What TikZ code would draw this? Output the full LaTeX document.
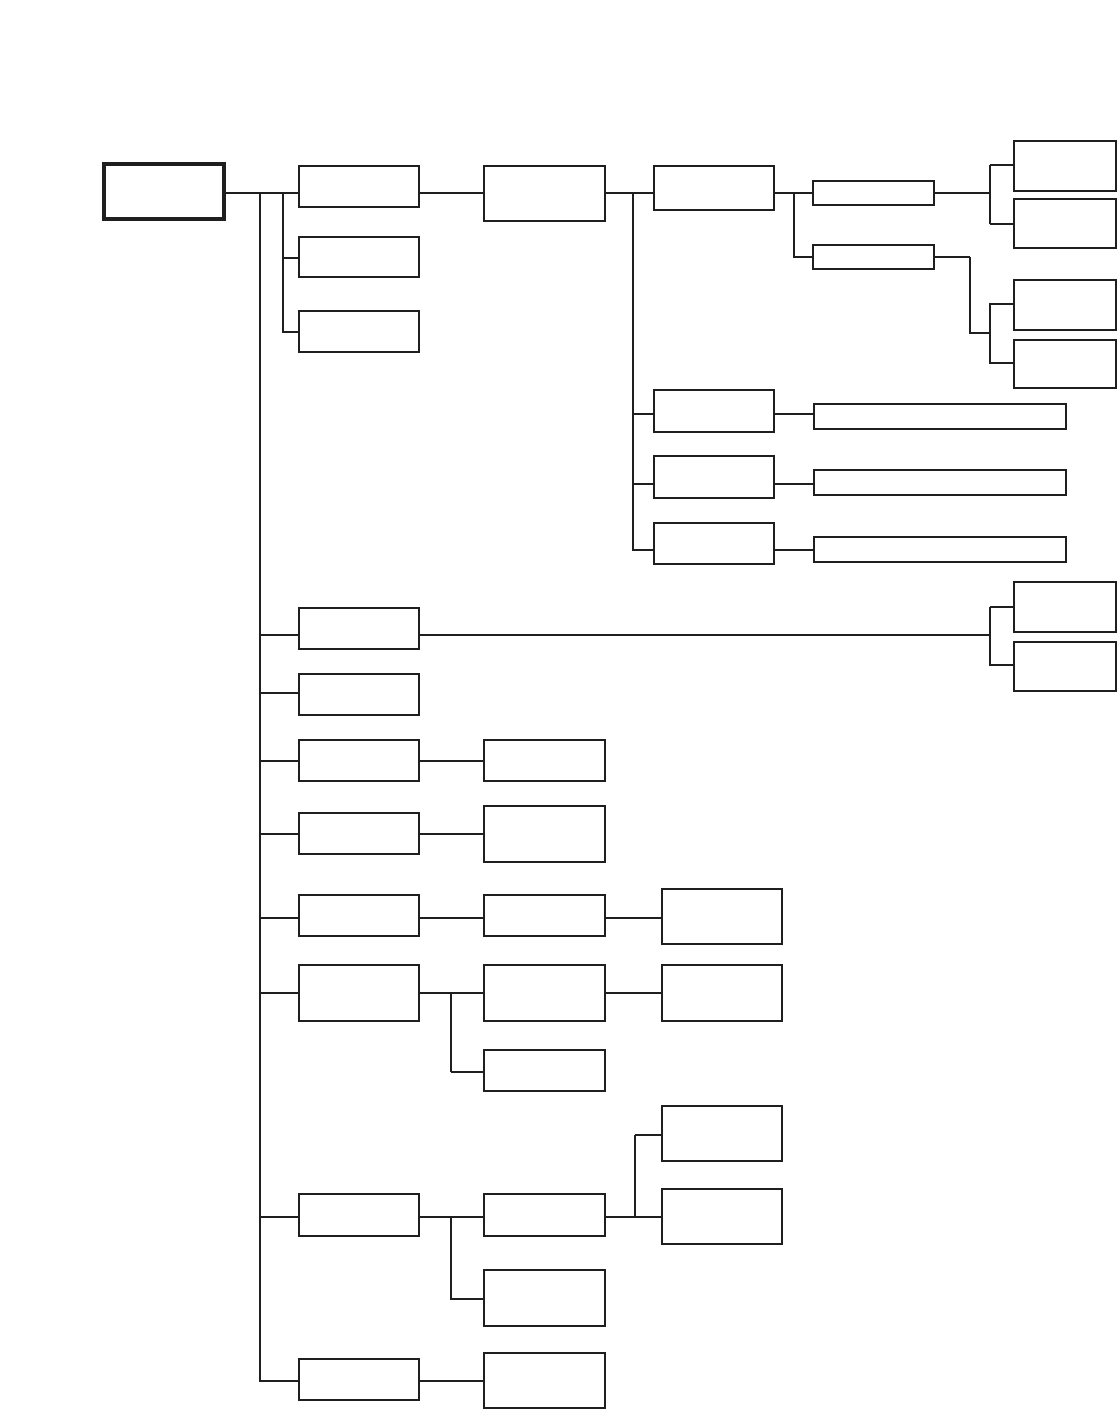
\documentclass[tikz,border=0pt]{standalone}
\begin{document}
\begin{tikzpicture}[x=1pt,y=-1pt,
  box/.style={draw=black!88,line width=1.7pt,inner sep=0pt,outer sep=0pt,anchor=north west,fill=white},
  rootbox/.style={draw=black!88,line width=3.2pt,inner sep=0pt,outer sep=0pt,anchor=north west,fill=white},
  thk/.style={draw=black!88,line width=1.9pt},
  thn/.style={draw=black!88,line width=1.2pt}]
\useasboundingbox (0,0) rectangle (1118,1409);
\newcommand\bx[6][box]{\node[#1,minimum width=#5pt,minimum height=#6pt] (#2) at (#3,#4) {};}
% boxes
\bx[rootbox]{root}{104}{164}{120}{55}
\bx{B1}{299}{166}{120}{41}
\bx{B2}{299}{237}{120}{40}
\bx{B3}{299}{311}{120}{41}
\bx{C1}{484}{166}{121}{55}
\bx{D1}{654}{166}{120}{44}
\bx{E1}{813}{181}{121}{24}
\bx{E2}{813}{245}{121}{24}
\bx{F1}{1014}{141}{102}{50}
\bx{F2}{1014}{199}{102}{49}
\bx{F3}{1014}{280}{102}{50}
\bx{F4}{1014}{340}{102}{48}
\bx{D2}{654}{390}{120}{42}
\bx{D3}{654}{456}{120}{42}
\bx{D4}{654}{523}{120}{41}
\bx{G1}{814}{404}{252}{25}
\bx{G2}{814}{470}{252}{25}
\bx{G3}{814}{537}{252}{25}
\bx{H1}{299}{608}{120}{41}
\bx{F5}{1014}{582}{102}{50}
\bx{F6}{1014}{642}{102}{49}
\bx{H2}{299}{674}{120}{41}
\bx{H3}{299}{740}{120}{41}
\bx{I1}{484}{740}{121}{41}
\bx{H4}{299}{813}{120}{41}
\bx{I2}{484}{806}{121}{56}
\bx{H5}{299}{895}{120}{41}
\bx{J1}{484}{895}{121}{41}
\bx{K1}{662}{889}{120}{55}
\bx{H6}{299}{965}{120}{56}
\bx{J2}{484}{965}{121}{56}
\bx{K2}{662}{965}{120}{56}
\bx{J3}{484}{1050}{121}{41}
\bx{K3}{662}{1106}{120}{55}
\bx{K4}{662}{1189}{120}{55}
\bx{H7}{299}{1194}{120}{42}
\bx{J4}{484}{1194}{121}{42}
\bx{J5}{484}{1270}{121}{56}
\bx{H8}{299}{1359}{120}{41}
\bx{J6}{484}{1353}{121}{55}
% junction coordinates
\coordinate (t0) at (260,193);
\coordinate (tEnd) at (260,1381);
\coordinate (b0) at (283,193);
\coordinate (c0) at (633,193);
\coordinate (e0) at (794,193);
\coordinate (f0) at (990,193);
\coordinate (e2r) at (970,257);
\coordinate (f1) at (990,333);
\coordinate (f2) at (990,635);
\coordinate (j0) at (451,993);
\coordinate (j1) at (451,1217);
\coordinate (k0) at (635,1217);
% root and first group
\draw[thk] (root.east |- t0) -- (B1.west |- t0);
\draw[thn] (t0) -- (tEnd) -- (H8.west |- tEnd);
\draw[thk] (b0) |- (B3.west |- 0,332);
\draw[thk] (b0 |- 0,258) -- (B2.west |- 0,258);
\draw[thk] (B1.east |- t0) -- (C1.west |- t0);
\draw[thk] (C1.east |- c0) -- (D1.west |- c0);
\draw[thk] (c0) |- (D4.west |- 0,550);
\draw[thn] (c0 |- 0,414) -- (D2.west |- 0,414);
\draw[thk] (c0 |- 0,484) -- (D3.west |- 0,484);
\draw[thn] (D2.east |- 0,414) -- (G1.west |- 0,414);
\draw[thk] (D3.east |- 0,484) -- (G2.west |- 0,484);
\draw[thk] (D4.east |- 0,550) -- (G3.west |- 0,550);
% E branch
\draw[thk] (D1.east |- e0) -- (E1.west |- e0);
\draw[thn] (e0) |- (E2.west |- 0,257);
\draw[thk] (E2.west |- 0,257) -- +(-19,0);
\draw[thk] (E1.east |- f0) -- (f0);
\draw[thk] (f0 |- 0,165) -- (F1.west |- 0,165);
\draw[thk] (f0 |- 0,224) -- (F2.west |- 0,224);
\draw[thk] (f0 |- 0,165) -- (f0 |- 0,224);
\draw[thk] (E2.east |- e2r) -- (e2r);
\draw[thn] (e2r) |- (f1);
\draw[thk] (f1) -- (f1 |- 0,304) -- (F3.west |- 0,304);
\draw[thn] (f1) |- (F4.west |- 0,363);
% H1 branch
\draw[thk] (t0 |- 0,635) -- (H1.west |- 0,635);
\draw[thk] (H1.east |- 0,635) -- (f2);
\draw[thk] (f2 |- 0,607) -- (F5.west |- 0,607);
\draw[thn] (f2 |- 0,607) |- (F6.west |- 0,665);
% H2..H4
\draw[thk] (t0 |- 0,693) -- (H2.west |- 0,693);
\draw[thk] (t0 |- 0,761) -- (H3.west |- 0,761);
\draw[thk] (H3.east |- 0,761) -- (I1.west |- 0,761);
\draw[thn] (t0 |- 0,834) -- (H4.west |- 0,834);
\draw[thn] (H4.east |- 0,834) -- (I2.west |- 0,834);
% H5
\draw[thk] (t0 |- 0,918) -- (H5.west |- 0,918);
\draw[thk] (H5.east |- 0,918) -- (J1.west |- 0,918);
\draw[thk] (J1.east |- 0,918) -- (K1.west |- 0,918);
% H6
\draw[thk] (t0 |- j0) -- (H6.west |- j0);
\draw[thk] (H6.east |- j0) -- (J2.west |- j0);
\draw[thk] (J2.east |- j0) -- (K2.west |- j0);
\draw[thk] (j0) -- (j0 |- 0,1072);
\draw[thn] (j0 |- 0,1072) -- (J3.west |- 0,1072);
% H7
\draw[thk] (t0 |- j1) -- (H7.west |- j1);
\draw[thk] (H7.east |- j1) -- (J4.west |- j1);
\draw[thk] (j1) |- (J5.west |- 0,1299);
\draw[thk] (J4.east |- k0) -- (K4.west |- k0);
\draw[thn] (k0) -- (k0 |- 0,1135);
\draw[thk] (k0 |- 0,1135) -- (K3.west |- 0,1135);
% H8
\draw[thn] (H8.east |- tEnd) -- (J6.west |- tEnd);
\end{tikzpicture}
\end{document}
